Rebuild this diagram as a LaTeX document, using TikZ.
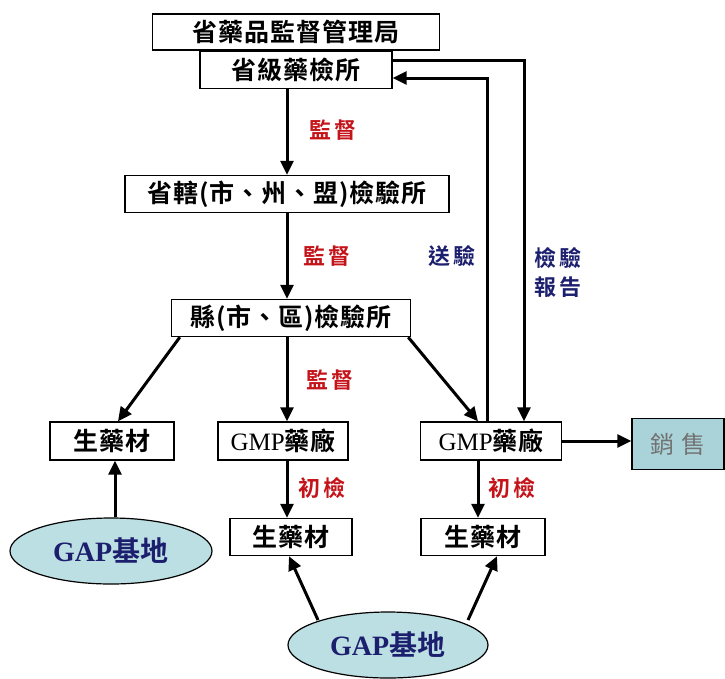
\documentclass[tikz,border=0pt]{standalone}
\usepackage{fontspec}
\usetikzlibrary{arrows.meta,shapes.geometric}
\newfontfamily\cjk{Noto Sans CJK TC}[BoldFont={Noto Sans CJK TC Bold},LetterSpace=4]
\newfontfamily\cjkl{Noto Sans CJK TC}[BoldFont={Noto Sans CJK TC Bold},LetterSpace=10]
\newfontfamily\cjks{Noto Sans CJK TC}[LetterSpace=28]
\newfontfamily\cjkg{Noto Sans CJK TC}[BoldFont={Noto Sans CJK TC Bold},LetterSpace=2]
\newfontfamily\serf{Liberation Serif}
\definecolor{lblred}{HTML}{C4141A}
\definecolor{navy}{HTML}{1C1F6E}
\definecolor{ellfill}{HTML}{BCDFE3}
\definecolor{salefill}{HTML}{A9D3D8}
\begin{document}
\begin{tikzpicture}[x=1pt,y=-1pt,
  box/.style={draw, line width=1.4pt, fill=white, inner sep=0pt,
    font=\cjk\bfseries\fontsize{25}{25}\selectfont},
  gmp/.style={box, font=\fontsize{25}{25}\selectfont},
  ell/.style={ellipse, draw, line width=1.2pt, fill=ellfill, inner sep=0pt,
    text=navy, font=\fontsize{28}{28}\selectfont},
  arr/.style={line width=3pt, -{Triangle[length=14pt,width=13pt]}},
  lblr/.style={text=lblred, font=\cjkl\bfseries\fontsize{22}{22}\selectfont},
  lblb/.style={text=navy, font=\cjkl\bfseries\fontsize{22}{22}\selectfont, align=center}]
\useasboundingbox (0,0) rectangle (725,678);
\node[box, minimum width=287pt, minimum height=36pt] (top) at (296,32) {省藥品監督管理局};
\node[box, minimum width=192pt, minimum height=37pt] (prov) at (296,70) {省級藥檢所};
\node[box, minimum width=324pt, minimum height=37pt] (city) at (287,194) {省轄(市、州、盟)檢驗所};
\node[box, minimum width=239pt, minimum height=37pt] (county) at (291,318) {縣(市、區)檢驗所};
\node[box, minimum width=124pt, minimum height=38pt] (herbL) at (112,441) {生藥材};
\node[gmp, minimum width=130pt, minimum height=38pt] (gmpM) at (283,441) {{\serf GMP}{\cjkg\bfseries 藥廠}};
\node[gmp, minimum width=141pt, minimum height=38pt] (gmpR) at (491,441) {{\serf GMP}{\cjkg\bfseries 藥廠}};
\node[box, fill=salefill, text=black!55, font=\cjks\fontsize{24}{24}\selectfont,
  minimum width=92pt, minimum height=51pt] (sale) at (678,444) {銷售};
\node[box, minimum width=122pt, minimum height=37pt] (herbM) at (291,537) {生藥材};
\node[box, minimum width=124pt, minimum height=37pt] (herbR) at (483,537) {生藥材};
\node[ell, minimum width=202pt, minimum height=66pt] (gapL) at (111,551)
  {{\serf\bfseries GAP}{\cjkg\bfseries 基地}};
\node[ell, minimum width=200pt, minimum height=66pt] (gapB) at (388,645)
  {{\serf\bfseries GAP}{\cjkg\bfseries 基地}};
% main flow
\draw[arr] (prov.south -| city.north) -- (city.north);
\draw[arr] (city.south) -- (city.south |- county.north);
\draw[arr] ([xshift=9pt]county.south west) -- ([xshift=6pt]herbL.north);
\draw[arr] ([xshift=-4pt]county.south) -- ([xshift=4pt]gmpM.north);
\draw[arr] ([xshift=-3pt]county.south east) -- ([xshift=-13pt]gmpR.north);
\draw[arr] ([xshift=4pt]gmpM.south) -- ([xshift=-4pt]herbM.north);
\draw[arr] ([xshift=-13pt]gmpR.south) -- ([xshift=-5pt]herbR.north);
\draw[arr] (gmpR.east) -- (sale.west |- gmpR.east);
\draw[arr] ([xshift=4pt]gapL.north) -- ([xshift=3pt]herbL.south);
\draw[arr] ([shift={(-70pt,25pt)}]gapB.center) -- ([xshift=-2pt]herbM.south);
\draw[arr] ([shift={(80pt,25pt)}]gapB.center) -- ([xshift=14pt]herbR.south);
% feedback loops
\draw[arr] ([xshift=-4pt]gmpR.north) |- ([yshift=-8pt]prov.east);
\draw[arr] ([yshift=10pt]prov.east) -| ([xshift=33pt]gmpR.north);
% labels
\node[lblr] (l1) at (333,130) {監督};
\node[lblr] (l2) at (327,256) {監督};
\node[lblr] (l3) at (330,380) {監督};
\node[lblr] (l4) at (322,488) {初檢};
\node[lblr] (l5) at (512,488) {初檢};
\node[lblb] (l6) at (452,256) {送驗};
\node[lblb] (l7) at (558,273) {檢驗\\[7pt]報告};
\end{tikzpicture}
\end{document}
